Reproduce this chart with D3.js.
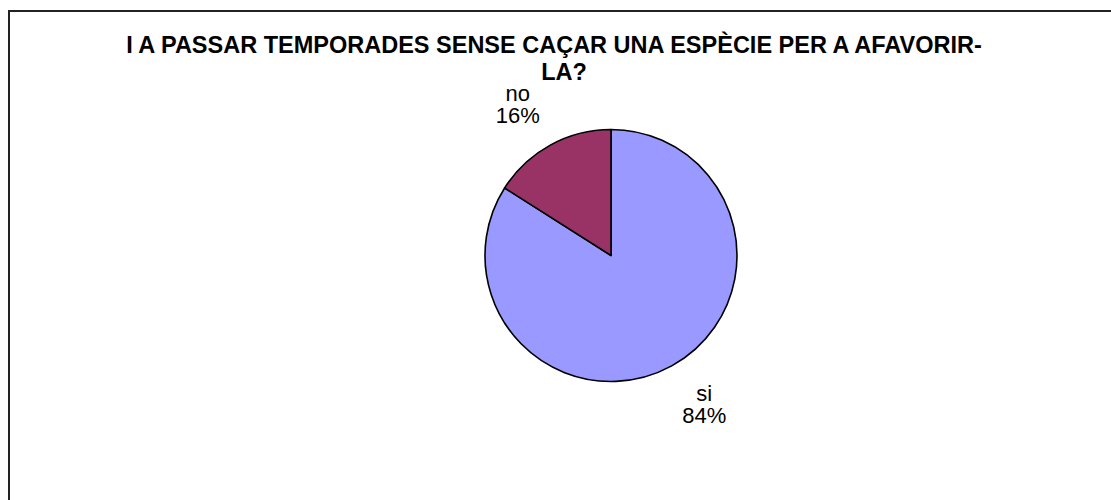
<!DOCTYPE html>
<html>
<head>
<meta charset="utf-8">
<script src="https://cdn.jsdelivr.net/npm/d3@7"></script>
<style>
  html, body { margin: 0; padding: 0; background: #fff; }
  svg { display: block; }
</style>
</head>
<body>
<svg id="chart" width="1111" height="500"></svg>
<script>
const titleLines = ["I A PASSAR TEMPORADES SENSE CAÇAR UNA ESPÈCIE PER A AFAVORIR-", "LA?"];
const categories = ["si", "no"];
const values = [84, 16];
const colors = ["#9999FF", "#993366"];

const svg = d3.select("#chart");

// chart frame (left and top edges visible)
svg.append("path")
  .attr("d", "M9,500 V11 H1111")
  .attr("fill", "none")
  .attr("stroke", "#222")
  .attr("stroke-width", 2);

// title
const title = svg.append("text")
  .attr("font-family", "Liberation Sans, Arial, sans-serif")
  .attr("font-weight", "bold")
  .attr("font-size", 23.5)
  .attr("fill", "#000")
  .attr("text-anchor", "middle");
title.append("tspan").attr("x", 554).attr("y", 53).text(titleLines[0]);
title.append("tspan").attr("x", 564).attr("y", 80).text(titleLines[1]);

// pie
const cx = 611, cy = 255.5, r = 126;
const pie = d3.pie().sort(null).value(d => d.v);
const data = categories.map((c, i) => ({ c, v: values[i], col: colors[i] }));
const arcs = pie(data);
const arc = d3.arc().innerRadius(0).outerRadius(r);

const g = svg.append("g").attr("transform", `translate(${cx},${cy})`);
g.selectAll("path")
  .data(arcs)
  .join("path")
  .attr("d", arc)
  .attr("fill", d => d.data.col)
  .attr("stroke", "#000")
  .attr("stroke-width", 1.6)
  .attr("stroke-linejoin", "round");

// labels outside the pie
const total = d3.sum(values);
const labelArc = d3.arc().innerRadius(r * 1.36).outerRadius(r * 1.36);
const labels = g.selectAll("text.lbl")
  .data(arcs)
  .join("text")
  .attr("class", "lbl")
  .attr("font-family", "Liberation Sans, Arial, sans-serif")
  .attr("font-size", 22)
  .attr("fill", "#000")
  .attr("text-anchor", "middle")
  .attr("transform", d => {
    const [x, y] = labelArc.centroid(d);
    return `translate(${x * 1.13},${y})`;
  });
labels.append("tspan").attr("x", 0).attr("dy", "-0.22em").text(d => d.data.c);
labels.append("tspan").attr("x", 0).attr("dy", "1.03em")
  .text(d => Math.round(d.data.v / total * 100) + "%");
</script>
</body>
</html>
